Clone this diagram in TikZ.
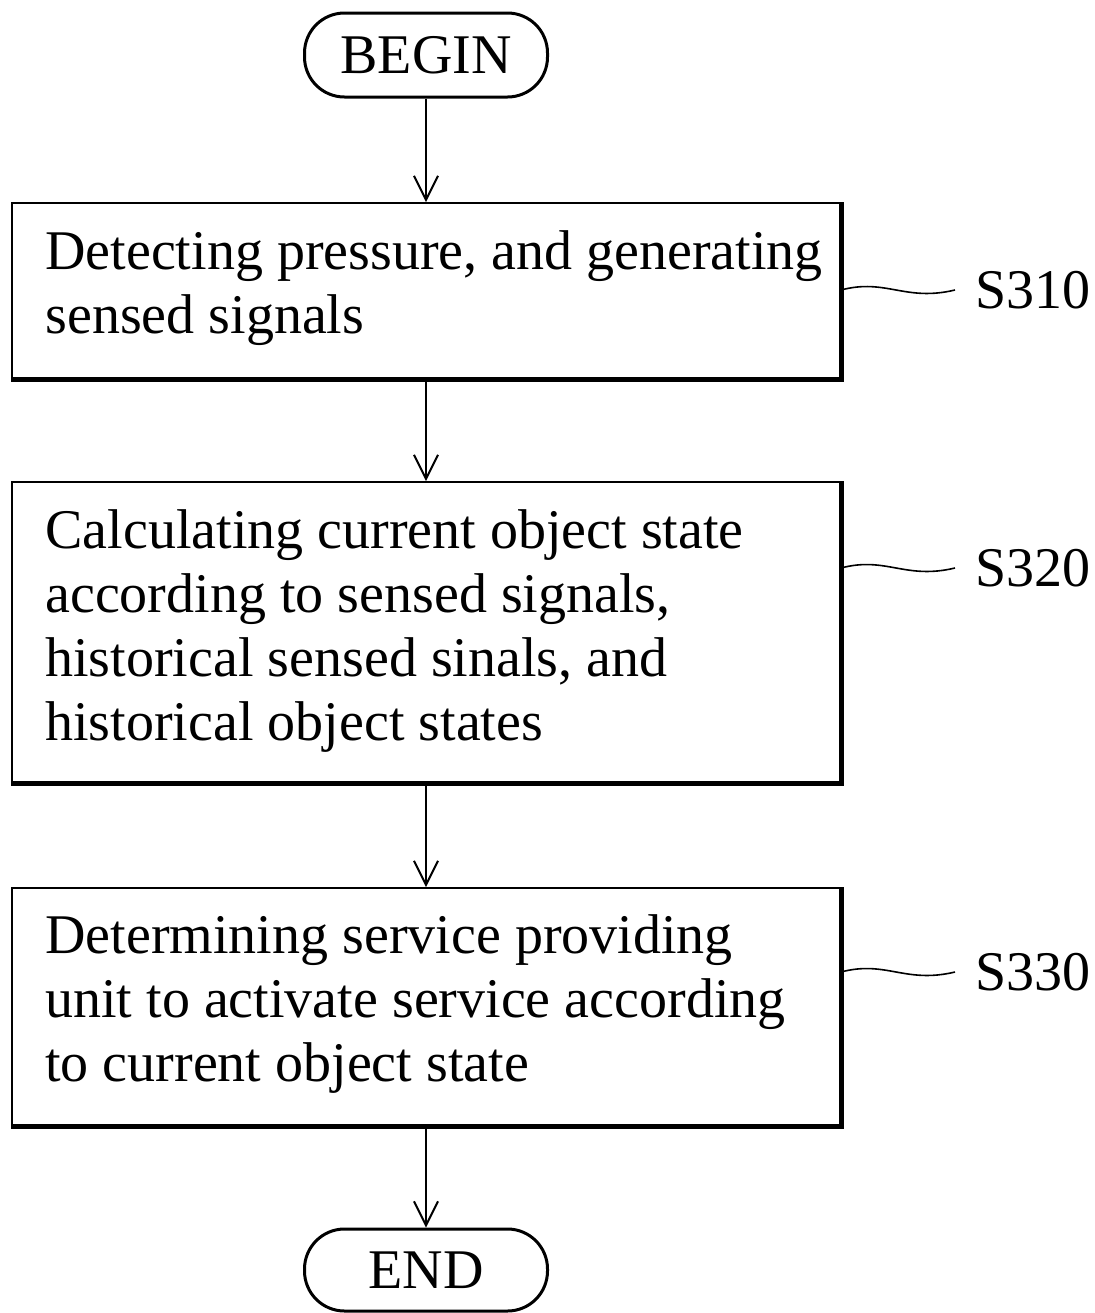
\documentclass[tikz,border=0pt]{standalone}
\usepackage{fontspec}
\setmainfont{Liberation Serif}
\usetikzlibrary{arrows.meta}
\begin{document}
\begin{tikzpicture}[x=0.5pt,y=-0.5pt,
  stepbox/.style={draw, line width=1pt, minimum width=414pt, inner sep=0pt},
  steptext/.style={anchor=west, align=left, inner sep=0pt, font=\fontsize{28}{32}\selectfont},
  term/.style={draw, line width=1.5pt, rounded corners=20pt, minimum width=121.5pt, minimum height=42pt, inner sep=0pt, font=\fontsize{28}{32}\selectfont},
  flow/.style={-{Straight Barb[length=12pt,width=12pt]}, line width=1pt},
  shade/.style={line width=2.5pt},
  wave/.style={line width=0.8pt},
  steplabel/.style={anchor=west, inner xsep=10pt, inner ysep=0pt, font=\fontsize{28}{32}\selectfont}]
\useasboundingbox (0,0) rectangle (1094,1313);

\node[term] (begin) at (426,55) {BEGIN};

\node[stepbox, minimum height=87.5pt] (s1) at (426,290.5) {};
\node[steptext] (t1) at (45,288) {Detecting pressure, and generating\\sensed signals};

\node[stepbox, minimum height=150pt] (s2) at (426,632) {};
\node[steptext] (t2) at (45,631) {Calculating current object state\\according to sensed signals,\\historical sensed sinals, and\\historical object states};

\node[stepbox, minimum height=118.5pt] (s3) at (426,1006.5) {};
\node[steptext] (t3) at (45,1004) {Determining service providing\\unit to activate service according\\to current object state};

\node[term, minimum height=41pt] (end) at (426,1270) {END};

\draw[shade] (s1.north east) -- (s1.south east) -- (s1.south west);
\draw[shade] (s2.north east) -- (s2.south east) -- (s2.south west);
\draw[shade] (s3.north east) -- (s3.south east) -- (s3.south west);

\draw[flow] (begin.south) -- (s1.north);
\draw[flow] (s1.south) -- (s2.north);
\draw[flow] (s2.south) -- (s3.north);
\draw[flow] (s3.south) -- (end.north);

\node[steplabel] (l1) at (955,290) {S310};
\node[steplabel] (l2) at (955,568) {S320};
\node[steplabel] (l3) at (955,972) {S330};

\draw[wave] (s1.east |- l1.west) .. controls +(45,-12) and +(-50,12) .. (l1.west);
\draw[wave] (s2.east |- l2.west) .. controls +(45,-12) and +(-50,12) .. (l2.west);
\draw[wave] (s3.east |- l3.west) .. controls +(45,-12) and +(-50,12) .. (l3.west);
\end{tikzpicture}
\end{document}
